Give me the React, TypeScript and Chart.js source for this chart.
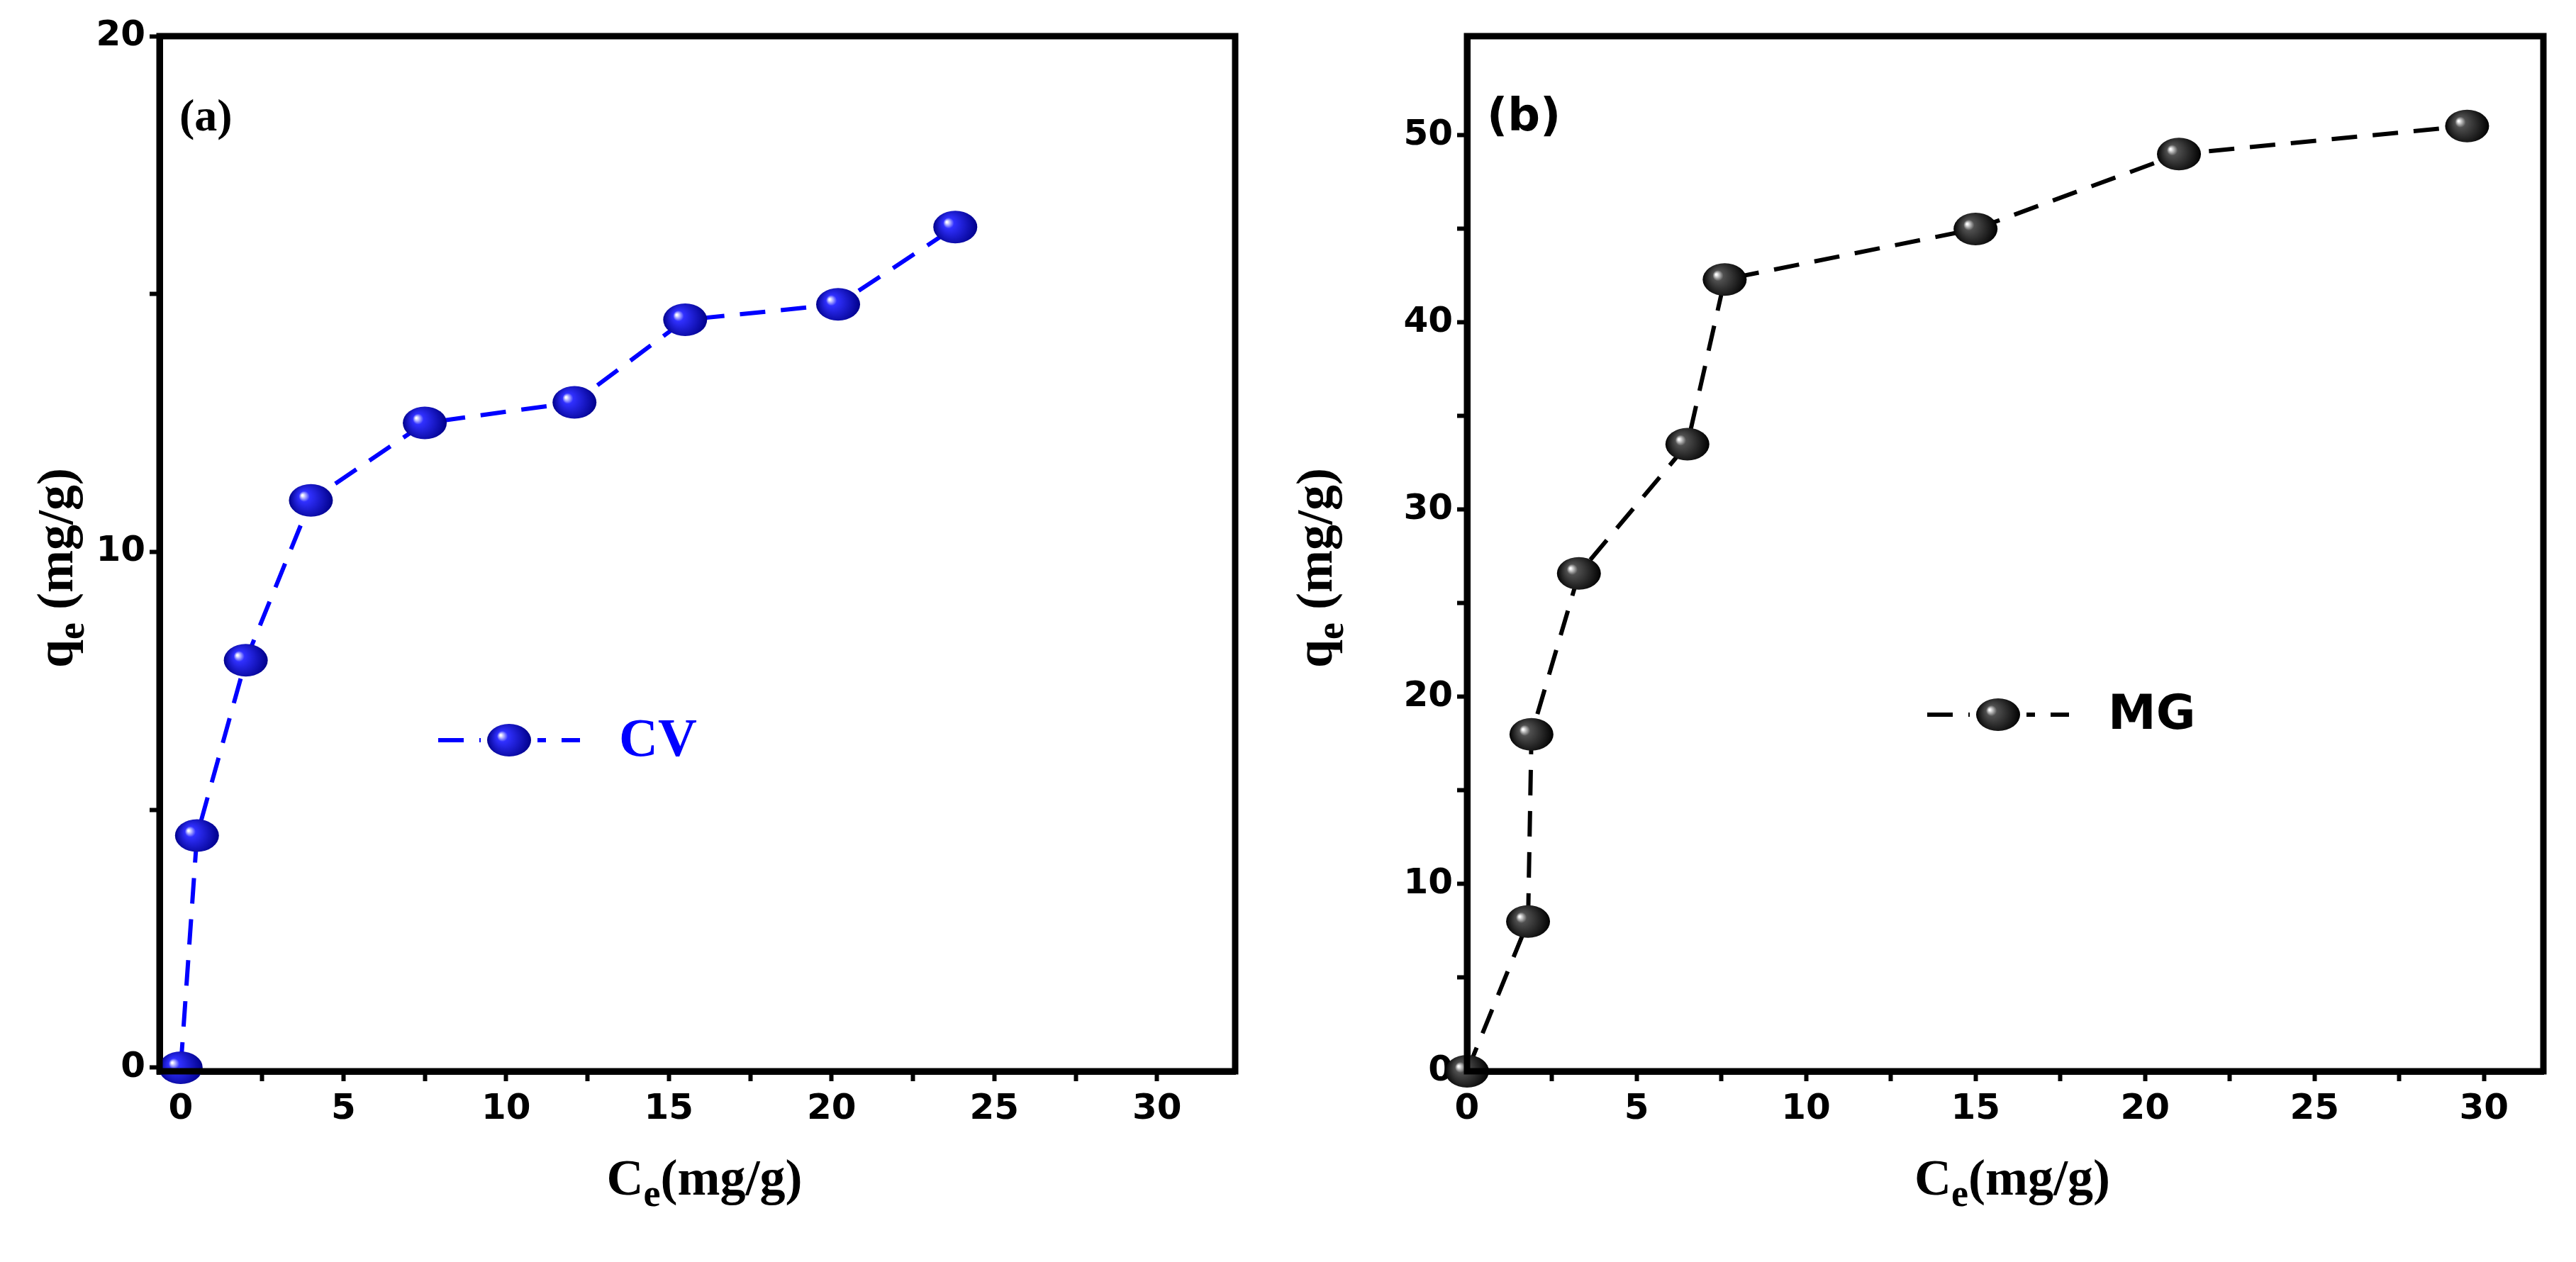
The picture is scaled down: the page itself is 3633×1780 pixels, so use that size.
import React, { useEffect, useRef } from "react";
import { Chart, registerables } from "chart.js";
Chart.register(...registerables);

const cvX = [0, 0.5, 2, 4, 7.5, 12.1, 15.5, 20.2, 23.8];
const cvY = [0, 4.5, 7.9, 11.0, 12.5, 12.9, 14.5, 14.8, 16.3];
const mgX = [0, 1.8, 1.9, 3.3, 6.5, 7.6, 15, 21, 29.5];
const mgY = [0, 8, 18, 26.6, 33.5, 42.3, 45, 49, 50.5];
const xTicks = [0, 2.5, 5, 7.5, 10, 12.5, 15, 17.5, 20, 22.5, 25, 27.5, 30];
const xLabels = [0, 5, 10, 15, 20, 25, 30];
const cvYTicks = [0, 5, 10, 15, 20];
const cvYLabels = [0, 10, 20];
const mgYTicks = [0, 5, 10, 15, 20, 25, 30, 35, 40, 45, 50];
const mgYLabels = [0, 10, 20, 30, 40, 50];

type PanelCfg = {
  xs: number[]; ys: number[]; color: string; dark: string; mid: string;
  xMin: number; xMax: number; yMin: number; yMax: number;
  yTicks: number[]; yLabels: number[]; yAxisW: number; padRight: number; width: number;
  tag: string; tagFont: string; legend: string; legendFont: string;
  legendPos: [number, number]; yTitleX: number;
};

function Panel({ cfg }: { cfg: PanelCfg }) {
  const ref = useRef<HTMLCanvasElement>(null);
  useEffect(() => {
    const c = cfg;
    const marker = (ctx: CanvasRenderingContext2D, x: number, y: number) => {
      const rx = 31, ry = 23;
      const g = ctx.createRadialGradient(x - 12, y - 7, 1, x, y, rx);
      g.addColorStop(0, "#ffffff");
      g.addColorStop(0.22, c.mid);
      g.addColorStop(1, c.dark);
      ctx.save();
      ctx.beginPath();
      ctx.ellipse(x, y, rx, ry, 0, 0, Math.PI * 2);
      ctx.fillStyle = g;
      ctx.fill();
      ctx.restore();
    };
    const plugin = {
      id: "deco",
      afterDatasetsDraw(chart: any) {
        const ctx = chart.ctx as CanvasRenderingContext2D;
        const a = chart.chartArea;
        const meta = chart.getDatasetMeta(0);
        meta.data.forEach((p: any) => marker(ctx, p.x, p.y));
        ctx.save();
        ctx.strokeStyle = "#000";
        ctx.lineWidth = 9;
        ctx.strokeRect(a.left, a.top, a.right - a.left, a.bottom - a.top);
        ctx.fillStyle = "#000";
        ctx.font = c.tagFont;
        ctx.textBaseline = "middle";
        ctx.textAlign = "left";
        ctx.fillText(c.tag, a.left + 28, a.top + 116);
        const [lx, ly] = c.legendPos;
        ctx.strokeStyle = c.color;
        ctx.lineWidth = 6;
        ctx.setLineDash([36, 22]);
        ctx.beginPath();
        ctx.moveTo(lx, ly);
        ctx.lineTo(lx + 200, ly);
        ctx.stroke();
        ctx.setLineDash([]);
        ctx.restore();
        ctx.save();
        ctx.fillStyle = "#fff";
        ctx.fillRect(lx + 60, ly - 10, 80, 20);
        ctx.restore();
        marker(ctx, lx + 100, ly);
        ctx.save();
        ctx.fillStyle = c.color;
        ctx.font = c.legendFont;
        ctx.textBaseline = "middle";
        ctx.fillText(c.legend, lx + 255, ly + 2);
        ctx.fillStyle = "#000";
        const cx = (a.left + a.right) / 2 + 10;
        const ty = 1657;
        const big = "bold 72px 'Liberation Serif'";
        const small = "bold 54px 'Liberation Serif'";
        ctx.font = big;
        const wC = ctx.measureText("C").width;
        ctx.font = small;
        const we = ctx.measureText("e").width;
        ctx.font = big;
        const wR = ctx.measureText("(mg/g)").width;
        let sx = cx - (wC + we + wR) / 2;
        ctx.textAlign = "left";
        ctx.textBaseline = "alphabetic";
        ctx.fillText("C", sx, ty + 20);
        ctx.font = small;
        ctx.fillText("e", sx + wC, ty + 36);
        ctx.font = big;
        ctx.fillText("(mg/g)", sx + wC + we, ty + 20);
        ctx.translate(c.yTitleX, (a.top + a.bottom) / 2 + 20);
        ctx.rotate(-Math.PI / 2);
        ctx.font = big;
        const wq = ctx.measureText("q").width;
        const wr2 = ctx.measureText(" (mg/g)").width;
        sx = -(wq + we + wr2) / 2;
        ctx.fillText("q", sx, 22);
        ctx.font = small;
        ctx.fillText("e", sx + wq, 38);
        ctx.font = big;
        ctx.fillText(" (mg/g)", sx + wq + we, 22);
        ctx.restore();
      },
    };
    const tickFont = { family: "'DejaVu Sans'", size: 50, weight: "bold" as const };
    const chart = new Chart(ref.current!, {
      type: "scatter",
      data: {
        datasets: [{
          data: c.xs.map((x, i) => ({ x, y: c.ys[i] })),
          showLine: true,
          borderColor: c.color,
          borderWidth: 6,
          borderDash: [36, 22],
          pointRadius: 0,
          clip: false as any,
        }],
      },
      options: {
        animation: false,
        responsive: false,
        layout: { padding: { top: 43, right: c.padRight } },
        plugins: { legend: { display: false }, tooltip: { enabled: false } },
        scales: {
          x: {
            type: "linear", min: c.xMin, max: c.xMax,
            afterBuildTicks: (s: any) => { s.ticks = xTicks.map((v) => ({ value: v })); },
            ticks: { color: "#000", font: tickFont, padding: 10, autoSkip: false, maxRotation: 0,
              callback: (v: any) => (xLabels.includes(Number(v)) ? String(v) : "") },
            grid: { drawOnChartArea: false, tickLength: 14, tickWidth: 6, color: "#000" },
            border: { color: "#000", width: 9 },
            afterFit: (s: any) => { s.height = 1764 - 1503; },
          },
          y: {
            type: "linear", min: c.yMin, max: c.yMax,
            afterBuildTicks: (s: any) => { s.ticks = c.yTicks.map((v) => ({ value: v })); },
            ticks: { color: "#000", font: tickFont, padding: 6, autoSkip: false,
              callback: (v: any) => (c.yLabels.includes(Number(v)) ? String(v) : "") },
            grid: { drawOnChartArea: false, tickLength: 14, tickWidth: 6, color: "#000" },
            border: { color: "#000", width: 9 },
            afterFit: (s: any) => { s.width = c.yAxisW; },
          },
        },
      },
      plugins: [plugin],
    });
    return () => chart.destroy();
  }, [cfg]);
  return <canvas ref={ref} width={cfg.width} height={1764} style={{ display: "block" }} />;
}

const left: PanelCfg = {
  xs: cvX, ys: cvY, color: "#0000ff", dark: "#00008a", mid: "#3030ff",
  xMin: -0.65, xMax: 32.4, yMin: -0.07, yMax: 20,
  yTicks: cvYTicks, yLabels: cvYLabels, yAxisW: 217, padRight: 66, width: 1800,
  tag: "(a)", tagFont: "bold 64px 'Liberation Serif'", legend: "CV",
  legendFont: "bold 76px 'Liberation Serif'", legendPos: [610, 1036], yTitleX: 72,
};
const right: PanelCfg = {
  xs: mgX, ys: mgY, color: "#000000", dark: "#000000", mid: "#505050",
  xMin: 0, xMax: 31.75, yMin: 0, yMax: 55.3,
  yTicks: mgYTicks, yLabels: mgYLabels, yAxisW: 261, padRight: 38, width: 1817,
  tag: "(b)", tagFont: "bold 64px 'DejaVu Sans'", legend: "MG",
  legendFont: "bold 68px 'DejaVu Sans'", legendPos: [910, 1000], yTitleX: 48,
};

export default function App() {
  return (
    <div style={{ display: "flex", width: 3617, height: 1764, background: "#fff" }}>
      <Panel cfg={left} />
      <Panel cfg={right} />
    </div>
  );
}
